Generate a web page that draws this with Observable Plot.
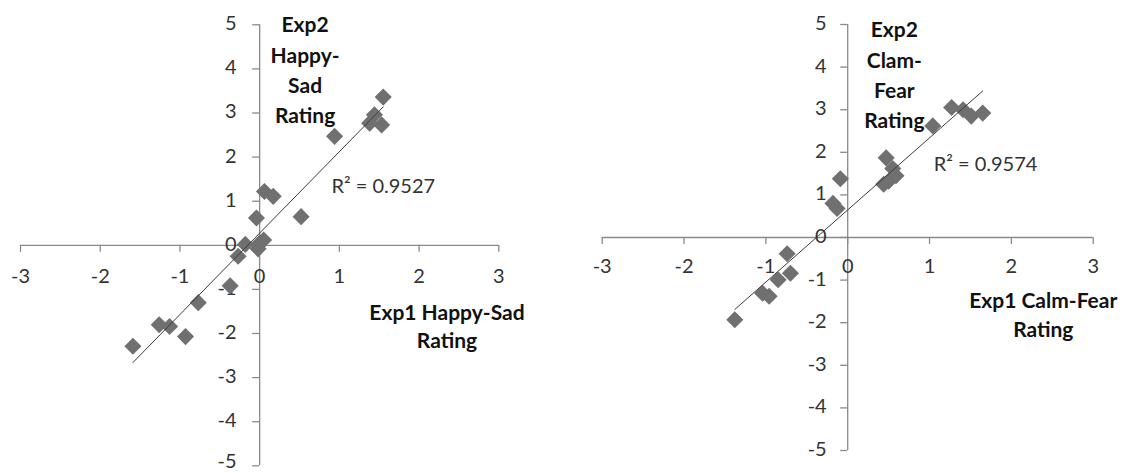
<!DOCTYPE html>
<html>
<head>
<meta charset="utf-8">
<script src="https://cdn.jsdelivr.net/npm/d3@7"></script>
<script src="https://cdn.jsdelivr.net/npm/@observablehq/plot@0.6"></script>
<style>
  html, body { margin: 0; padding: 0; background: #fff; }
  #wrap { position: relative; width: 1123px; height: 473px; overflow: hidden; background: #fff; }
  .panel { position: absolute; top: 0; }
</style>
</head>
<body>
<div id="wrap">
  <div id="left" class="panel" style="left:0px"></div>
  <div id="right" class="panel" style="left:561px"></div>
</div>
<script>
// ---- Data ----
const happyExp1 = [-1.59, -1.26, -1.13, -0.93, -0.77, -0.37, -0.27, -0.18, -0.02, 0.05, 0.00, -0.04, 0.06, 0.17, 0.52, 0.94, 1.38, 1.44, 1.53, 1.55];
const happyExp2 = [-2.29, -1.80, -1.84, -2.07, -1.30, -0.92, -0.25, 0.02, -0.08, 0.12, 0.05, 0.62, 1.22, 1.11, 0.65, 2.47, 2.77, 2.96, 2.73, 3.36];

const calmExp1 = [-1.38, -1.04, -0.96, -0.85, -0.74, -0.70, -0.18, -0.13, -0.09, 0.47, 0.44, 0.55, 0.59, 0.50, 1.04, 1.27, 1.41, 1.51, 1.65];
const calmExp2 = [-1.93, -1.31, -1.38, -0.99, -0.38, -0.84, 0.80, 0.68, 1.38, 1.87, 1.25, 1.62, 1.45, 1.32, 2.62, 3.05, 3.00, 2.85, 2.92];

const xTicks = [-3, -2, -1, 0, 1, 2, 3];
const yTicks = [-5, -4, -3, -2, -1, 0, 1, 2, 3, 4, 5];
const xTickLabels = ["-3", "-2", "-1", "0", "1", "2", "3"];
const yTickLabels = ["-5", "-4", "-3", "-2", "-1", "0", "1", "2", "3", "4", "5"];

const happyTitles = {
  yTitle: "Exp2\nHappy-\nSad\nRating",
  xTitle: "Exp1 Happy-Sad\nRating",
  r2: "R² = 0.9527"
};
const calmTitles = {
  yTitle: "Exp2\nClam-\nFear\nRating",
  xTitle: "Exp1 Calm-Fear\nRating",
  r2: "R² = 0.9574"
};
// annotation anchor positions in data units
const happyAnchors = {yTitle: [0.57, 4.02], xTitle: [2.35, -1.80], r2: [0.90, 1.33]};
const calmAnchors  = {yTitle: [0.57, 3.86], xTitle: [2.39, -1.78], r2: [1.05, 1.71]};

const FONT = "Lato, 'Open Sans', sans-serif";
const axisColor = "#8a8a8a";
const labelColor = "#333333";
const markerColor = "#707070";
const trendColor = "#3c3c3c";

function panel(xs, ys, titles, anchors, dims) {
  const data = xs.map((x, i) => ({x, y: ys[i]}));
  const plotH = dims.height - dims.marginTop - dims.marginBottom;
  const plotW = dims.width - dims.marginLeft - dims.marginRight;
  const pxY = plotH / 10, pxX = plotW / 6;
  const tickLen = 7;
  const xt = xTicks.map((v, i) => ({v, label: xTickLabels[i]}));
  const yt = yTicks.map((v, i) => ({v, label: yTickLabels[i]}));
  const yMin = d3.min(yTicks);
  return Plot.plot({
    width: dims.width,
    height: dims.height,
    marginLeft: dims.marginLeft,
    marginRight: dims.marginRight,
    marginTop: dims.marginTop,
    marginBottom: dims.marginBottom,
    style: {fontFamily: FONT, overflow: "visible", background: "transparent"},
    x: {domain: [-3, 3], axis: null},
    y: {domain: [-5, 5], axis: null},
    marks: [
      Plot.ruleY([0], {stroke: axisColor, strokeWidth: 1.3}),
      Plot.ruleX([0], {stroke: axisColor, strokeWidth: 1.3}),
      Plot.ruleX(xt, {x: "v", y1: 0, y2: -tickLen / pxY, stroke: axisColor, strokeWidth: 1.3}),
      Plot.ruleY(yt, {y: "v", x1: 0, x2: -tickLen / pxX, stroke: axisColor, strokeWidth: 1.3}),
      Plot.text(xt, {x: "v", y: 0, text: "label", dy: dims.xLabelDy, fontSize: 20, fill: labelColor}),
      Plot.text(yt, {filter: d => d.v !== yMin, x: 0, y: "v", text: "label", dx: dims.yLabelDx, dy: -1, textAnchor: "end", fontSize: 20, fill: labelColor}),
      Plot.text(yt, {filter: d => d.v === yMin, x: 0, y: "v", text: "label", dx: dims.yLabelDx, dy: dims.bottomLabelDy, textAnchor: "end", fontSize: 20, fill: labelColor}),
      Plot.dot(data, {x: "x", y: "y", symbol: "diamond2", r: 7.7, fill: markerColor, stroke: "none"}),
      Plot.linearRegressionY(data, {x: "x", y: "y", ci: 0, stroke: trendColor, strokeWidth: 1}),
      Plot.text([titles.yTitle], {x: anchors.yTitle[0], y: anchors.yTitle[1], text: d => d, fontSize: 21, fontWeight: "bold", lineHeight: 1.45, fill: "#111"}),
      Plot.text([titles.xTitle], {x: anchors.xTitle[0], y: anchors.xTitle[1], text: d => d, fontSize: 21, fontWeight: "bold", lineHeight: 1.36, fill: "#111"}),
      Plot.text([titles.r2], {x: anchors.r2[0], y: anchors.r2[1], text: d => d, fontSize: 20, textAnchor: "start", fill: labelColor})
    ]
  });
}

document.getElementById("left").append(panel(happyExp1, happyExp2, happyTitles, happyAnchors, {
  width: 561, height: 473, marginLeft: 20, marginRight: 62.7, marginTop: 24.3, marginBottom: 7.7,
  xLabelDy: 31, yLabelDx: -23, bottomLabelDy: -4
}));
document.getElementById("right").append(panel(calmExp1, calmExp2, calmTitles, calmAnchors, {
  width: 562, height: 473, marginLeft: 40.7, marginRight: 30.3, marginTop: 24, marginBottom: 23,
  xLabelDy: 29, yLabelDx: -21, bottomLabelDy: -1
}));
</script>
</body>
</html>
